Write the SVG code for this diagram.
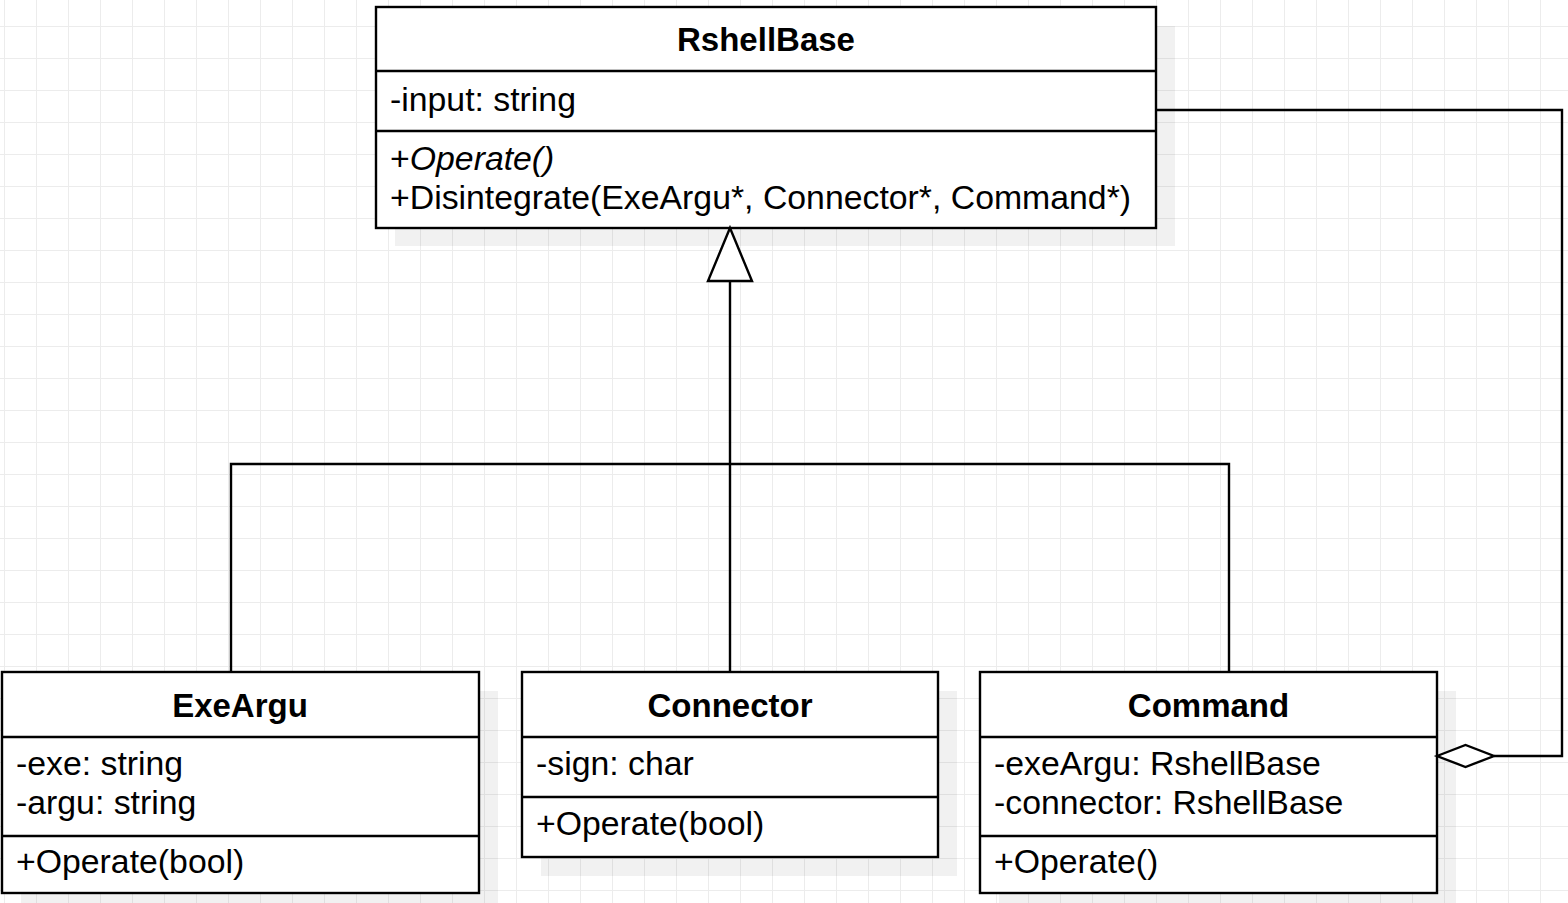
<svg xmlns="http://www.w3.org/2000/svg" width="1568" height="903" viewBox="0 0 1568 903">
<defs>
<pattern id="grid" x="4" y="26" width="32" height="32" patternUnits="userSpaceOnUse">
<path d="M0.5 0V32M0 0.5H32" fill="none" stroke="#ececec" stroke-width="1"/>
</pattern>
<style>
.box{fill:#ffffff;stroke:#000000;stroke-width:2.4}
.shadow{fill:#000000;fill-opacity:0.055;stroke:none}
.div{stroke:#000000;stroke-width:2.4}
.edge{fill:none;stroke:#000000;stroke-width:2.4}
text{font-family:"Liberation Sans",Arial,sans-serif;font-size:33.8px;fill:#000000}
.title{font-weight:bold;text-anchor:middle;font-size:33px}
.it{font-style:italic}
</style>
</defs>
<rect width="1568" height="903" fill="#ffffff"/>
<rect width="1568" height="903" fill="url(#grid)"/>

<g id="RshellBase">
<rect class="shadow" x="395" y="26" width="780" height="220"/>
<rect class="box" x="376" y="7" width="780" height="221"/>
<line class="div" x1="376" y1="71" x2="1156" y2="71"/>
<line class="div" x1="376" y1="131" x2="1156" y2="131"/>
<text class="title" x="766" y="51">RshellBase</text>
<text x="390" y="111">-input: string</text>
<text x="390" y="170">+<tspan class="it">Operate()</tspan></text>
<text x="390" y="209">+Disintegrate(ExeArgu*, Connector*, Command*)</text>
</g>

<g id="ExeArgu">
<rect class="shadow" x="21" y="691" width="477" height="221"/>
<rect class="box" x="2" y="672" width="477" height="221"/>
<line class="div" x1="2" y1="737" x2="479" y2="737"/>
<line class="div" x1="2" y1="836" x2="479" y2="836"/>
<text class="title" x="240" y="717">ExeArgu</text>
<text x="16" y="775">-exe: string</text>
<text x="16" y="814">-argu: string</text>
<text x="16" y="873">+Operate(bool)</text>
</g>

<g id="Connector">
<rect class="shadow" x="541" y="691" width="416" height="185"/>
<rect class="box" x="522" y="672" width="416" height="185"/>
<line class="div" x1="522" y1="737" x2="938" y2="737"/>
<line class="div" x1="522" y1="797" x2="938" y2="797"/>
<text class="title" x="730" y="717">Connector</text>
<text x="536" y="775">-sign: char</text>
<text x="536" y="835">+Operate(bool)</text>
</g>

<g id="Command">
<rect class="shadow" x="999" y="691" width="457" height="221"/>
<rect class="box" x="980" y="672" width="457" height="221"/>
<line class="div" x1="980" y1="737" x2="1437" y2="737"/>
<line class="div" x1="980" y1="836" x2="1437" y2="836"/>
<text class="title" x="1208.5" y="717">Command</text>
<text x="994" y="775">-exeArgu: RshellBase</text>
<text x="994" y="814">-connector: RshellBase</text>
<text x="994" y="873">+Operate()</text>
</g>

<g id="connectors">
<path class="edge" d="M730 672V281"/>
<path class="edge" d="M231 672V464H1229V672"/>
<polygon class="edge" points="730,228 752,281 708,281" style="fill:#ffffff"/>
<path class="edge" d="M1156 110H1562V756H1494"/>
<polygon class="edge" points="1437,756 1465.5,745 1494,756 1465.5,767" style="fill:#ffffff"/>
</g>
</svg>
